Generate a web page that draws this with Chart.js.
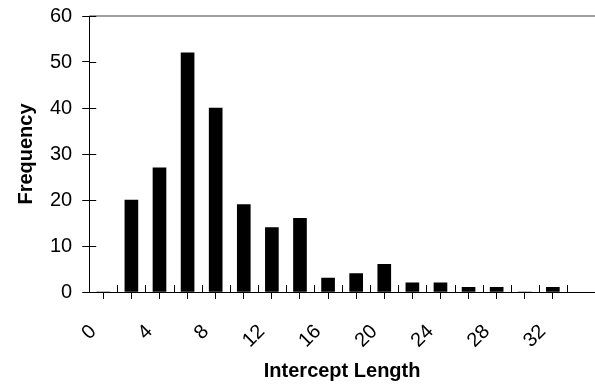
<!DOCTYPE html>
<html><head><meta charset="utf-8">
<script src="https://cdn.jsdelivr.net/npm/chart.js@4/dist/chart.umd.min.js"></script>
<style>html,body{margin:0;padding:0;background:#fff}#wrap{width:595px;height:385px}</style>
</head><body><div id="wrap"><canvas id="c"></canvas></div>
<script>
// Histogram bins (width 2): centres and counts
const binCenters = [1,3,5,7,9,11,13,15,17,19,21,23,25,27,29,31,33];
const frequencies = [0,20,27,52,40,19,14,16,3,4,6,2,2,1,1,0,1];
const xTickLabels = ['0','4','8','12','16','20','24','28','32'];
const xTickValues = [0,4,8,12,16,20,24,28,32];
const yTickLabels = ['0','10','20','30','40','50','60'];

const FONT = "'Liberation Sans', Arial, sans-serif";

const crossTicks = {
  id: 'crossTicks',
  afterDraw(chart) {
    const ctx = chart.ctx, a = chart.chartArea;
    const xs = chart.scales.x, ys = chart.scales.y;
    ctx.save();
    // top border line of plot area
    ctx.strokeStyle = '#808080';
    ctx.lineWidth = 1.5;
    ctx.beginPath();
    const yt = ys.getPixelForValue(ys.max);
    ctx.moveTo(a.left, yt); ctx.lineTo(chart.width, yt);
    ctx.stroke();
    // inner halves of tick marks
    ctx.strokeStyle = '#000';
    ctx.lineWidth = 1;
    ctx.beginPath();
    xs.ticks.forEach(t => {
      if (t.value >= xs.max) return;
      const px = Math.round(xs.getPixelForValue(t.value)) + 0.5;
      ctx.moveTo(px, a.bottom); ctx.lineTo(px, a.bottom - 7);
    });
    ys.ticks.forEach(t => {
      const py = Math.round(ys.getPixelForValue(t.value)) + 0.5;
      ctx.moveTo(a.left, py); ctx.lineTo(a.left + 7, py);
    });
    ctx.stroke();
    ctx.restore();
  }
};

new Chart(document.getElementById('c'), {
  type: 'bar',
  data: {
    datasets: [{
      data: binCenters.map((c, i) => ({x: c, y: frequencies[i]})),
      backgroundColor: '#000',
      borderWidth: 0,
      barThickness: 13
    }]
  },
  options: {
    responsive: true,
    maintainAspectRatio: false,
    animation: false,
    layout: {padding: {left: 8, right: 0, top: 16, bottom: 0}},
    plugins: {legend: {display: false}, tooltip: {enabled: false}},
    scales: {
      x: {
        type: 'linear',
        min: 0, max: 36,
        offset: false,
        afterFit: (s) => { s.paddingLeft = 0; s.paddingRight = 0; s.height = 93; },
        ticks: {
          stepSize: 2,
          autoSkip: false,
          minRotation: 45, maxRotation: 45,
          padding: 21,
          labelOffset: 4,
          color: '#000',
          font: {family: FONT, size: 20},
          callback: (v) => {
            const i = xTickValues.indexOf(v);
            return i >= 0 ? xTickLabels[i] : '';
          }
        },
        grid: {
          drawOnChartArea: false,
          drawTicks: true,
          tickLength: 7,
          tickColor: (ctx) => (ctx.tick && ctx.tick.value >= 36) ? 'rgba(0,0,0,0)' : '#000',
          color: '#000'
        },
        border: {color: '#000', width: 1},
        title: {
          display: true,
          text: 'Intercept Length',
          color: '#000',
          font: {family: FONT, size: 20, weight: 'bold'},
          padding: {top: 6, bottom: 2}
        }
      },
      y: {
        min: 0, max: 60,
        afterFit: (s) => { s.paddingTop = 0; s.paddingBottom = 0; },
        ticks: {
          stepSize: 10,
          padding: 10,
          color: '#000',
          font: {family: FONT, size: 20},
          callback: (v) => yTickLabels[v / 10]
        },
        grid: {
          drawOnChartArea: false,
          drawTicks: true,
          tickLength: 7,
          tickColor: '#000'
        },
        border: {color: '#000', width: 1},
        title: {
          display: true,
          text: 'Frequency',
          color: '#000',
          font: {family: FONT, size: 20, weight: 'bold'},
          padding: {top: 6, bottom: 2}
        }
      }
    }
  },
  plugins: [crossTicks]
});
</script>
</body></html>
